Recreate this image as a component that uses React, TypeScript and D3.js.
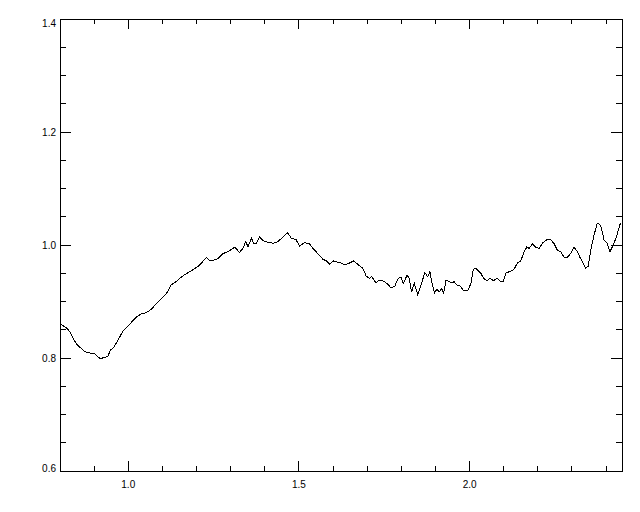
import React from "react";
import * as d3 from "d3";

const width = 640;
const height = 512;
const margin = { top: 19, right: 18, bottom: 41, left: 60 };

// wavelength (x) and ratio (y)
const wavelength = [
  0.8, 0.818, 0.828, 0.838, 0.848, 0.862, 0.872, 0.887, 0.902, 0.911, 0.918,
  0.931, 0.94, 0.948, 0.958, 0.97, 0.984, 0.994, 1.009, 1.023, 1.038, 1.052,
  1.067, 1.082, 1.096, 1.111, 1.125, 1.14, 1.155, 1.169, 1.184, 1.204, 1.214,
  1.229, 1.239, 1.248, 1.263, 1.278, 1.292, 1.312, 1.326, 1.336, 1.344, 1.351,
  1.361, 1.368, 1.375, 1.385, 1.394, 1.409, 1.424, 1.438, 1.453, 1.466, 1.478,
  1.492, 1.502, 1.516, 1.531, 1.541, 1.555, 1.57, 1.58, 1.59, 1.602, 1.616,
  1.624, 1.633, 1.648, 1.661, 1.672, 1.687, 1.697, 1.706, 1.713, 1.726, 1.736,
  1.745, 1.76, 1.768, 1.78, 1.791, 1.799, 1.806, 1.817, 1.823, 1.83, 1.838,
  1.848, 1.859, 1.869, 1.877, 1.884, 1.889, 1.897, 1.904, 1.911, 1.918, 1.924,
  1.931, 1.94, 1.947, 1.955, 1.963, 1.973, 1.982, 1.994, 2.004, 2.011, 2.018,
  2.023, 2.033, 2.041, 2.051, 2.06, 2.07, 2.08, 2.09, 2.099, 2.106, 2.121,
  2.13, 2.14, 2.15, 2.16, 2.168, 2.174, 2.184, 2.194, 2.204, 2.213, 2.226,
  2.238, 2.247, 2.257, 2.267, 2.277, 2.286, 2.296, 2.306, 2.316, 2.325, 2.333,
  2.34, 2.347, 2.355, 2.364, 2.374, 2.384, 2.394, 2.402, 2.411, 2.421, 2.431,
  2.442,
];
const ratio = [
  0.86, 0.854, 0.847, 0.835, 0.825, 0.817, 0.811, 0.809, 0.807, 0.802, 0.799,
  0.801, 0.803, 0.814, 0.819, 0.832, 0.847, 0.853, 0.863, 0.872, 0.878, 0.88,
  0.886, 0.896, 0.904, 0.913, 0.929, 0.935, 0.943, 0.949, 0.954, 0.962, 0.968,
  0.978, 0.972, 0.973, 0.976, 0.985, 0.988, 0.996, 0.987, 0.994, 1.006, 0.997,
  1.012, 1.002, 1.002, 1.014, 1.008, 1.005, 1.003, 1.006, 1.014, 1.022, 1.012,
  1.009, 0.998, 1.004, 1.002, 0.994, 0.985, 0.975, 0.972, 0.966, 0.972, 0.969,
  0.968, 0.965, 0.968, 0.972, 0.966, 0.959, 0.945, 0.941, 0.944, 0.933, 0.938,
  0.937, 0.931, 0.925, 0.926, 0.941, 0.943, 0.932, 0.947, 0.941, 0.917, 0.932,
  0.912, 0.932, 0.951, 0.944, 0.953, 0.935, 0.915, 0.922, 0.917, 0.923, 0.915,
  0.938, 0.935, 0.933, 0.935, 0.929, 0.927, 0.919, 0.919, 0.932, 0.957, 0.959,
  0.956, 0.95, 0.941, 0.937, 0.941, 0.937, 0.941, 0.936, 0.936, 0.95, 0.954,
  0.957, 0.968, 0.972, 0.988, 0.997, 0.994, 1.002, 0.996, 0.994, 1.003, 1.009,
  1.009, 1.003, 0.991, 0.988, 0.978, 0.978, 0.985, 0.996, 0.988, 0.976, 0.968,
  0.959, 0.962, 0.991, 1.016, 1.039, 1.035, 1.009, 1.004, 0.988, 1.0, 1.016,
  1.039,
];

const xMajor = [1.0, 1.5, 2.0];
const xMinor = [0.9, 1.1, 1.2, 1.3, 1.4, 1.6, 1.7, 1.8, 1.9, 2.1, 2.2, 2.3, 2.4];
const yMajor = [0.6, 0.8, 1.0, 1.2, 1.4];
const yMinor = [0.65, 0.7, 0.75, 0.85, 0.9, 0.95, 1.05, 1.1, 1.15, 1.25, 1.3, 1.35];

const x = d3
  .scaleLinear()
  .domain([0.8, 2.4465])
  .range([margin.left, width - margin.right]);
const y = d3
  .scaleLinear()
  .domain([0.6, 1.4])
  .range([height - margin.bottom, margin.top]);

const font = "'Liberation Sans', Arial, sans-serif";

export default function App() {
  const x0 = margin.left;
  const x1 = width - margin.right;
  const y0 = height - margin.bottom;
  const y1 = margin.top;

  const line = d3
    .line<number>()
    .x((_, i) => x(wavelength[i]))
    .y((d) => y(d));

  const xTick = (v: number, len: number, key: string) => (
    <g key={key}>
      <line x1={x(v)} x2={x(v)} y1={y0} y2={y0 - len} />
      <line x1={x(v)} x2={x(v)} y1={y1} y2={y1 + len} />
    </g>
  );
  const yTick = (v: number, len: number, key: string) => (
    <g key={key}>
      <line x1={x0} x2={x0 + len} y1={y(v)} y2={y(v)} />
      <line x1={x1} x2={x1 - len} y1={y(v)} y2={y(v)} />
    </g>
  );

  return (
    <svg
      width={width}
      height={height}
      style={{ position: "absolute", left: 0, top: 0, background: "#fff" }}
    >
      <rect width={width} height={height} fill="#fff" />
      <g stroke="#000" strokeWidth={1} shapeRendering="crispEdges">
        <rect x={x0} y={y1} width={x1 - x0} height={y0 - y1} fill="none" />
        {xMajor.map((v) => xTick(v, 10, "xM" + v))}
        {xMinor.map((v) => xTick(v, 5, "xm" + v))}
        {yMajor.map((v) => yTick(v, 11, "yM" + v))}
        {yMinor.map((v) => yTick(v, 6, "ym" + v))}
      </g>
      <g fontFamily={font} fontSize={10} fill="#000">
        {xMajor.map((v) => (
          <text key={v} x={x(v)} y={y0 + 16.5} textAnchor="middle">
            {v.toFixed(1)}
          </text>
        ))}
        {yMajor.map((v) => (
          <text
            key={v}
            x={x0 - 4}
            y={Math.min(Math.max(y(v) + 4, y1 + 8), y0 + 1)}
            textAnchor="end"
          >
            {v.toFixed(1)}
          </text>
        ))}
      </g>
      <path
        d={line(ratio) || ""}
        fill="none"
        stroke="#000"
        strokeWidth={1}
        shapeRendering="crispEdges"
      />
    </svg>
  );
}
